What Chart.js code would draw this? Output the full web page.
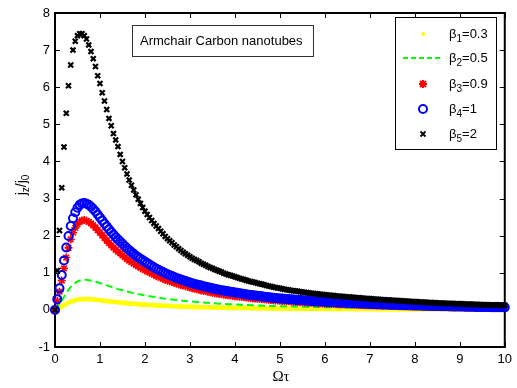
<!DOCTYPE html>
<html>
<head>
<meta charset="utf-8">
<script src="https://cdn.jsdelivr.net/npm/chart.js@4.4.0/dist/chart.umd.min.js"></script>
<style>
  html, body { margin: 0; padding: 0; background: #fff; }
</style>
</head>
<body>
<canvas id="chart" width="517" height="388"></canvas>
<script>
// x values (Omega tau), step 0.05
const omegaTau = [
  0, 0.05, 0.1, 0.15, 0.2, 0.25, 0.3, 0.35, 0.4, 0.45, 0.5, 0.55, 0.6, 0.65, 0.7, 0.75, 0.8, 0.85, 0.9, 0.95,
  1, 1.05, 1.1, 1.15, 1.2, 1.25, 1.3, 1.35, 1.4, 1.45, 1.5, 1.55, 1.6, 1.65, 1.7, 1.75, 1.8, 1.85, 1.9, 1.95,
  2, 2.05, 2.1, 2.15, 2.2, 2.25, 2.3, 2.35, 2.4, 2.45, 2.5, 2.55, 2.6, 2.65, 2.7, 2.75, 2.8, 2.85, 2.9, 2.95,
  3, 3.05, 3.1, 3.15, 3.2, 3.25, 3.3, 3.35, 3.4, 3.45, 3.5, 3.55, 3.6, 3.65, 3.7, 3.75, 3.8, 3.85, 3.9, 3.95,
  4, 4.05, 4.1, 4.15, 4.2, 4.25, 4.3, 4.35, 4.4, 4.45, 4.5, 4.55, 4.6, 4.65, 4.7, 4.75, 4.8, 4.85, 4.9, 4.95,
  5, 5.05, 5.1, 5.15, 5.2, 5.25, 5.3, 5.35, 5.4, 5.45, 5.5, 5.55, 5.6, 5.65, 5.7, 5.75, 5.8, 5.85, 5.9, 5.95,
  6, 6.05, 6.1, 6.15, 6.2, 6.25, 6.3, 6.35, 6.4, 6.45, 6.5, 6.55, 6.6, 6.65, 6.7, 6.75, 6.8, 6.85, 6.9, 6.95,
  7, 7.05, 7.1, 7.15, 7.2, 7.25, 7.3, 7.35, 7.4, 7.45, 7.5, 7.55, 7.6, 7.65, 7.7, 7.75, 7.8, 7.85, 7.9, 7.95,
  8, 8.05, 8.1, 8.15, 8.2, 8.25, 8.3, 8.35, 8.4, 8.45, 8.5, 8.55, 8.6, 8.65, 8.7, 8.75, 8.8, 8.85, 8.9, 8.95,
  9, 9.05, 9.1, 9.15, 9.2, 9.25, 9.3, 9.35, 9.4, 9.45, 9.5, 9.55, 9.6, 9.65, 9.7, 9.75, 9.8, 9.85, 9.9, 9.95,
  10
];

// beta1 = 0.3
const beta1 = [
  0, 0.03, 0.06, 0.09, 0.13, 0.16, 0.19, 0.22, 0.24, 0.26, 0.275, 0.285, 0.29, 0.292, 0.292, 0.29, 0.285, 0.28, 0.275, 0.268,
  0.26, 0.253, 0.245, 0.238, 0.23, 0.223, 0.216, 0.21, 0.203, 0.197, 0.19, 0.185, 0.179, 0.174, 0.168, 0.163, 0.158, 0.154, 0.15, 0.145,
  0.141, 0.137, 0.134, 0.13, 0.127, 0.123, 0.12, 0.116, 0.113, 0.11, 0.107, 0.104, 0.101, 0.098, 0.096, 0.093, 0.091, 0.089, 0.087, 0.085,
  0.083, 0.081, 0.079, 0.077, 0.076, 0.074, 0.072, 0.07, 0.069, 0.067, 0.066, 0.064, 0.063, 0.062, 0.061, 0.059, 0.058, 0.057, 0.056, 0.055,
  0.054, 0.053, 0.052, 0.051, 0.05, 0.049, 0.048, 0.047, 0.046, 0.045, 0.044, 0.0435, 0.043, 0.042, 0.041, 0.0405, 0.04, 0.039, 0.038, 0.0375,
  0.037, 0.0365, 0.036, 0.0355, 0.035, 0.0345, 0.034, 0.0335, 0.033, 0.0325, 0.032, 0.0315, 0.031, 0.0305, 0.03, 0.0295, 0.029, 0.0285, 0.028, 0.0275,
  0.027, 0.0265, 0.026, 0.026, 0.026, 0.0255, 0.025, 0.0245, 0.024, 0.024, 0.024, 0.0235, 0.023, 0.0225, 0.022, 0.022, 0.022, 0.0215, 0.021, 0.021,
  0.021, 0.0205, 0.02, 0.02, 0.02, 0.0195, 0.019, 0.019, 0.019, 0.0185, 0.018, 0.018, 0.018, 0.0175, 0.017, 0.017, 0.017, 0.017, 0.017, 0.0165,
  0.016, 0.016, 0.016, 0.0155, 0.015, 0.015, 0.015, 0.015, 0.015, 0.0145, 0.014, 0.014, 0.014, 0.014, 0.014, 0.0135, 0.013, 0.013, 0.013, 0.013,
  0.013, 0.0125, 0.012, 0.012, 0.012, 0.012, 0.012, 0.012, 0.012, 0.0115, 0.011, 0.011, 0.011, 0.011, 0.011, 0.011, 0.011, 0.0105, 0.01, 0.01,
  0.01
];

// beta2 = 0.5
const beta2 = [
  0, 0.08, 0.16, 0.25, 0.35, 0.45, 0.54, 0.62, 0.68, 0.73, 0.77, 0.79, 0.80, 0.81, 0.81, 0.80, 0.79, 0.775, 0.76, 0.74,
  0.72, 0.70, 0.68, 0.66, 0.64, 0.62, 0.60, 0.58, 0.56, 0.545, 0.53, 0.51, 0.495, 0.48, 0.465, 0.45, 0.44, 0.425, 0.415, 0.40,
  0.39, 0.38, 0.37, 0.36, 0.35, 0.34, 0.33, 0.32, 0.31, 0.302, 0.295, 0.287, 0.28, 0.272, 0.265, 0.257, 0.25, 0.245, 0.24, 0.235,
  0.23, 0.225, 0.22, 0.215, 0.21, 0.205, 0.20, 0.195, 0.19, 0.185, 0.18, 0.176, 0.172, 0.168, 0.165, 0.161, 0.158, 0.155, 0.152, 0.149,
  0.146, 0.143, 0.14, 0.137, 0.135, 0.132, 0.13, 0.127, 0.125, 0.122, 0.12, 0.118, 0.116, 0.114, 0.112, 0.11, 0.108, 0.106, 0.104, 0.102,
  0.10, 0.098, 0.097, 0.095, 0.094, 0.092, 0.091, 0.089, 0.088, 0.086, 0.085, 0.084, 0.083, 0.081, 0.08, 0.079, 0.078, 0.077, 0.076, 0.075,
  0.074, 0.073, 0.072, 0.071, 0.07, 0.069, 0.068, 0.067, 0.066, 0.065, 0.064, 0.0635, 0.063, 0.062, 0.061, 0.0605, 0.06, 0.059, 0.058, 0.0575,
  0.057, 0.056, 0.055, 0.0545, 0.054, 0.0535, 0.053, 0.052, 0.051, 0.0505, 0.05, 0.0495, 0.049, 0.0485, 0.048, 0.0475, 0.047, 0.0465, 0.046, 0.0455,
  0.045, 0.0445, 0.044, 0.0435, 0.043, 0.0425, 0.042, 0.0415, 0.041, 0.0405, 0.04, 0.0395, 0.039, 0.0385, 0.038, 0.0375, 0.037, 0.037, 0.037, 0.0365,
  0.036, 0.0355, 0.035, 0.0345, 0.034, 0.034, 0.034, 0.0335, 0.033, 0.0325, 0.032, 0.032, 0.032, 0.0315, 0.031, 0.0305, 0.03, 0.03, 0.03, 0.0295,
  0.029
];

// beta3 = 0.9
const beta3 = [
  0, 0.24, 0.49, 0.79, 1.12, 1.41, 1.67, 1.90, 2.08, 2.21, 2.31, 2.38, 2.41, 2.42, 2.40, 2.37, 2.33, 2.28, 2.22, 2.15,
  2.08, 2.01, 1.94, 1.87, 1.80, 1.74, 1.68, 1.62, 1.57, 1.52, 1.47, 1.42, 1.37, 1.33, 1.29, 1.25, 1.21, 1.17, 1.14, 1.10,
  1.07, 1.04, 1.01, 0.98, 0.95, 0.92, 0.89, 0.865, 0.84, 0.815, 0.79, 0.77, 0.75, 0.73, 0.71, 0.69, 0.67, 0.655, 0.64, 0.62,
  0.60, 0.585, 0.57, 0.555, 0.54, 0.525, 0.51, 0.50, 0.49, 0.475, 0.46, 0.45, 0.44, 0.43, 0.42, 0.41, 0.40, 0.392, 0.385, 0.377,
  0.37, 0.362, 0.355, 0.347, 0.34, 0.332, 0.325, 0.317, 0.31, 0.305, 0.30, 0.295, 0.29, 0.285, 0.28, 0.272, 0.265, 0.26, 0.255, 0.25,
  0.245, 0.242, 0.24, 0.235, 0.23, 0.225, 0.22, 0.215, 0.21, 0.207, 0.205, 0.201, 0.197, 0.193, 0.19, 0.186, 0.183, 0.18, 0.177, 0.173,
  0.17, 0.167, 0.165, 0.162, 0.16, 0.157, 0.155, 0.152, 0.15, 0.147, 0.145, 0.142, 0.14, 0.138, 0.136, 0.134, 0.132, 0.13, 0.128, 0.126,
  0.124, 0.122, 0.12, 0.118, 0.116, 0.114, 0.113, 0.111, 0.11, 0.108, 0.106, 0.104, 0.103, 0.101, 0.10, 0.098, 0.097, 0.095, 0.094, 0.092,
  0.091, 0.089, 0.088, 0.087, 0.086, 0.084, 0.083, 0.082, 0.081, 0.08, 0.079, 0.078, 0.077, 0.076, 0.075, 0.074, 0.073, 0.072, 0.071, 0.07,
  0.069, 0.068, 0.067, 0.066, 0.065, 0.064, 0.063, 0.0625, 0.062, 0.061, 0.06, 0.0595, 0.059, 0.058, 0.057, 0.0565, 0.056, 0.055, 0.054, 0.0535,
  0.053
];

// beta4 = 1
const beta4 = [
  0, 0.29, 0.58, 0.94, 1.33, 1.68, 1.99, 2.26, 2.47, 2.63, 2.75, 2.83, 2.87, 2.88, 2.86, 2.83, 2.78, 2.72, 2.65, 2.57,
  2.49, 2.41, 2.33, 2.25, 2.17, 2.10, 2.03, 1.96, 1.90, 1.84, 1.78, 1.72, 1.66, 1.61, 1.56, 1.51, 1.46, 1.42, 1.38, 1.34,
  1.30, 1.26, 1.22, 1.18, 1.15, 1.11, 1.08, 1.05, 1.02, 0.99, 0.96, 0.935, 0.91, 0.885, 0.86, 0.84, 0.82, 0.80, 0.78, 0.76,
  0.74, 0.72, 0.70, 0.685, 0.67, 0.655, 0.64, 0.625, 0.61, 0.595, 0.58, 0.567, 0.555, 0.542, 0.53, 0.52, 0.51, 0.50, 0.49, 0.48,
  0.47, 0.46, 0.45, 0.44, 0.43, 0.42, 0.41, 0.402, 0.395, 0.387, 0.38, 0.372, 0.365, 0.357, 0.35, 0.342, 0.335, 0.327, 0.32, 0.315,
  0.31, 0.305, 0.30, 0.295, 0.29, 0.285, 0.28, 0.275, 0.27, 0.265, 0.26, 0.255, 0.25, 0.245, 0.24, 0.236, 0.233, 0.229, 0.226, 0.223,
  0.22, 0.216, 0.213, 0.21, 0.207, 0.203, 0.20, 0.197, 0.194, 0.191, 0.188, 0.185, 0.182, 0.18, 0.177, 0.174, 0.172, 0.169, 0.167, 0.164,
  0.162, 0.159, 0.157, 0.154, 0.152, 0.15, 0.148, 0.145, 0.143, 0.141, 0.139, 0.137, 0.135, 0.133, 0.131, 0.129, 0.127, 0.125, 0.124, 0.122,
  0.12, 0.118, 0.117, 0.115, 0.113, 0.112, 0.11, 0.108, 0.107, 0.105, 0.104, 0.102, 0.101, 0.099, 0.098, 0.096, 0.095, 0.094, 0.093, 0.091,
  0.09, 0.089, 0.088, 0.086, 0.085, 0.084, 0.083, 0.081, 0.08, 0.079, 0.078, 0.077, 0.076, 0.075, 0.074, 0.073, 0.072, 0.071, 0.07, 0.069,
  0.068
];

// beta5 = 2
const beta5 = [
  0, 1.06, 2.14, 3.29, 4.39, 5.30, 6.04, 6.60, 7.00, 7.24, 7.39, 7.44, 7.44, 7.39, 7.30, 7.14, 6.96, 6.77, 6.56, 6.31,
  6.10, 5.85, 5.63, 5.40, 5.16, 4.96, 4.75, 4.58, 4.40, 4.19, 4.00, 3.83, 3.66, 3.50, 3.36, 3.23, 3.10, 2.98, 2.87, 2.76,
  2.66, 2.57, 2.49, 2.41, 2.33, 2.26, 2.19, 2.12, 2.05, 1.98, 1.92, 1.86, 1.81, 1.75, 1.70, 1.65, 1.60, 1.55, 1.51, 1.47,
  1.43, 1.39, 1.36, 1.33, 1.30, 1.26, 1.23, 1.20, 1.17, 1.14, 1.12, 1.09, 1.07, 1.04, 1.02, 0.99, 0.97, 0.95, 0.93, 0.91,
  0.89, 0.87, 0.85, 0.835, 0.82, 0.80, 0.78, 0.765, 0.75, 0.735, 0.72, 0.705, 0.69, 0.675, 0.66, 0.645, 0.63, 0.615, 0.60, 0.59,
  0.58, 0.567, 0.555, 0.545, 0.535, 0.525, 0.515, 0.507, 0.50, 0.49, 0.48, 0.472, 0.465, 0.457, 0.45, 0.442, 0.435, 0.427, 0.42, 0.415,
  0.41, 0.402, 0.395, 0.39, 0.385, 0.377, 0.37, 0.365, 0.36, 0.355, 0.35, 0.345, 0.34, 0.335, 0.33, 0.325, 0.32, 0.315, 0.31, 0.305,
  0.30, 0.295, 0.29, 0.285, 0.28, 0.277, 0.273, 0.269, 0.265, 0.262, 0.258, 0.254, 0.25, 0.246, 0.243, 0.239, 0.235, 0.232, 0.228, 0.224,
  0.22, 0.217, 0.214, 0.21, 0.207, 0.204, 0.20, 0.197, 0.194, 0.191, 0.188, 0.185, 0.182, 0.18, 0.177, 0.174, 0.172, 0.169, 0.167, 0.164,
  0.162, 0.16, 0.157, 0.155, 0.153, 0.151, 0.149, 0.147, 0.145, 0.143, 0.141, 0.139, 0.137, 0.135, 0.134, 0.132, 0.13, 0.129, 0.127, 0.126,
  0.124
];

const betaSubs = ["1", "2", "3", "4", "5"];
const betaValues = ["0.3", "0.5", "0.9", "1", "2"];
const xTicks = [0, 1, 2, 3, 4, 5, 6, 7, 8, 9, 10];
const yTicks = [-1, 0, 1, 2, 3, 4, 5, 6, 7, 8];

const sans = "'Liberation Sans', Arial, sans-serif";

function pts(ys) {
  return omegaTau.map((x, i) => ({ x: x, y: ys[i] }));
}

// MATLAB-like box, inward ticks, legend, note box and axis titles
const matlabLook = {
  id: "matlabLook",
  beforeDatasetsDraw(chart) {
    const ctx = chart.ctx;
    const a = chart.chartArea;
    const xs = chart.scales.x;
    const ys = chart.scales.y;
    ctx.save();
    ctx.strokeStyle = "#000";
    ctx.lineWidth = 1;
    xTicks.forEach((t) => {
      const px = Math.round(xs.getPixelForValue(t)) + 0.5;
      ctx.beginPath();
      ctx.moveTo(px, a.bottom); ctx.lineTo(px, a.bottom - 5);
      ctx.moveTo(px, a.top); ctx.lineTo(px, a.top + 5);
      ctx.stroke();
    });
    yTicks.forEach((t) => {
      const py = Math.round(ys.getPixelForValue(t)) + 0.5;
      ctx.beginPath();
      ctx.moveTo(a.left, py); ctx.lineTo(a.left + 5, py);
      ctx.moveTo(a.right, py); ctx.lineTo(a.right - 5, py);
      ctx.stroke();
    });
    ctx.lineWidth = 2;
    ctx.strokeRect(a.left, a.top, a.right - a.left, a.bottom - a.top);
    ctx.restore();
  },
  afterDraw(chart) {
    const ctx = chart.ctx;
    const ds = chart.data.datasets;
    ctx.save();

    // note box
    ctx.fillStyle = "#fff";
    ctx.fillRect(132, 25, 181, 31);
    ctx.strokeStyle = "#333";
    ctx.lineWidth = 1;
    ctx.strokeRect(132.5, 25.5, 181, 31);
    ctx.fillStyle = "#000";
    ctx.font = "13px " + sans;
    ctx.textBaseline = "middle";
    ctx.textAlign = "left";
    ctx.fillText("Armchair Carbon nanotubes", 140, 41);

    // legend box
    ctx.fillStyle = "#fff";
    ctx.fillRect(395, 17, 101, 132);
    ctx.strokeStyle = "#000";
    ctx.lineWidth = 1;
    ctx.strokeRect(395.5, 17.5, 101, 132);
    const rowY = [34, 58, 84, 109, 134];
    const mx = 423;
    rowY.forEach((y, i) => {
      const d = ds[i];
      ctx.save();
      ctx.strokeStyle = d.borderColor;
      ctx.fillStyle = d.backgroundColor;
      ctx.lineWidth = d.borderWidth;
      if (i === 0) {
        ctx.beginPath(); ctx.arc(mx, y, 2, 0, Math.PI * 2); ctx.fill();
      } else if (i === 1) {
        ctx.setLineDash([5, 3]);
        ctx.beginPath(); ctx.moveTo(403, y); ctx.lineTo(443, y); ctx.stroke();
      } else if (i === 2) {
        ctx.lineWidth = 2;
        ctx.beginPath();
        ctx.moveTo(mx - 4, y); ctx.lineTo(mx + 4, y);
        ctx.moveTo(mx, y - 4); ctx.lineTo(mx, y + 4);
        ctx.moveTo(mx - 3, y - 3); ctx.lineTo(mx + 3, y + 3);
        ctx.moveTo(mx - 3, y + 3); ctx.lineTo(mx + 3, y - 3);
        ctx.stroke();
      } else if (i === 3) {
        ctx.beginPath(); ctx.arc(mx, y, 4, 0, Math.PI * 2); ctx.stroke();
      } else {
        ctx.lineWidth = 1.8;
        ctx.beginPath();
        ctx.moveTo(mx - 2.5, y - 2.5); ctx.lineTo(mx + 2.5, y + 2.5);
        ctx.moveTo(mx - 2.5, y + 2.5); ctx.lineTo(mx + 2.5, y - 2.5);
        ctx.stroke();
      }
      ctx.restore();
      // label: beta_i = value
      let tx = 449;
      ctx.fillStyle = "#000";
      ctx.font = "13px " + sans;
      ctx.fillText("\u03b2", tx, y);
      tx += ctx.measureText("\u03b2").width;
      ctx.font = "10px " + sans;
      ctx.fillText(betaSubs[i], tx, y + 5);
      tx += ctx.measureText(betaSubs[i]).width;
      ctx.font = "13px " + sans;
      ctx.fillText("=" + betaValues[i], tx, y);
    });

    // x title
    ctx.font = "15px 'Liberation Serif', 'Times New Roman', serif";
    ctx.textAlign = "center";
    ctx.fillText("\u03a9\u03c4", 281, 377);

    // y title j_z/j_0, rotated
    ctx.translate(22, 185);
    ctx.rotate(-Math.PI / 2);
    const parts = [["j", 14, 0], ["z", 10, 4], ["/", 14, 0], ["j", 14, 0], ["0", 10, 4]];
    let w = 0;
    parts.forEach((p) => { ctx.font = p[1] + "px " + sans; w += ctx.measureText(p[0]).width; });
    let px = -w / 2;
    ctx.textAlign = "left";
    parts.forEach((p) => {
      ctx.font = p[1] + "px " + sans;
      ctx.fillText(p[0], px, p[2]);
      px += ctx.measureText(p[0]).width;
    });
    ctx.restore();
  }
};

new Chart(document.getElementById("chart"), {
  type: "line",
  data: {
    datasets: [
      {
        label: "beta1=0.3",
        data: pts(beta1),
        showLine: false,
        pointStyle: "circle",
        pointRadius: 2,
        pointBorderWidth: 1,
        borderWidth: 1,
        borderColor: "#ffff00",
        backgroundColor: "#ffff00",
        pointBackgroundColor: "#ffff00",
        pointBorderColor: "#ffff00",
        order: 5,
        clip: false
      },
      {
        label: "beta2=0.5",
        data: pts(beta2),
        showLine: true,
        pointRadius: 0,
        borderWidth: 2,
        borderDash: [7, 4],
        borderColor: "#00ff00",
        backgroundColor: "#00ff00",
        tension: 0,
        order: 4,
        clip: false
      },
      {
        label: "beta3=0.9",
        data: pts(beta3),
        showLine: false,
        pointStyle: "star",
        pointRadius: 4,
        pointBorderWidth: 1.6,
        borderWidth: 1.6,
        borderColor: "#ff0000",
        backgroundColor: "#ff0000",
        pointBorderColor: "#ff0000",
        order: 3,
        clip: false
      },
      {
        label: "beta4=1",
        data: pts(beta4),
        showLine: false,
        pointStyle: "circle",
        pointRadius: 4,
        pointBorderWidth: 2,
        borderWidth: 2,
        borderColor: "#0000ff",
        backgroundColor: "rgba(0,0,0,0)",
        pointBorderColor: "#0000ff",
        pointBackgroundColor: "rgba(0,0,0,0)",
        order: 2,
        clip: false
      },
      {
        label: "beta5=2",
        data: pts(beta5),
        showLine: false,
        pointStyle: "crossRot",
        pointRadius: 3.5,
        pointBorderWidth: 2.2,
        borderWidth: 2.2,
        borderColor: "#000000",
        backgroundColor: "#000000",
        pointBorderColor: "#000000",
        order: 1,
        clip: false
      }
    ]
  },
  options: {
    responsive: false,
    animation: false,
    devicePixelRatio: 1,
    events: [],
    layout: { padding: { top: 13, right: 9, left: 0, bottom: 0 } },
    plugins: {
      legend: { display: false },
      tooltip: { enabled: false }
    },
    scales: {
      x: {
        type: "linear",
        min: 0,
        max: 10,
        afterFit: (s) => { s.height = 41; },
        afterBuildTicks: (s) => { s.ticks = xTicks.map((v) => ({ value: v })); },
        grid: { display: false, drawTicks: false },
        border: { display: false },
        ticks: { color: "#000", font: { family: sans, size: 13 }, padding: 5, maxRotation: 0 }
      },
      y: {
        type: "linear",
        min: -1,
        max: 8,
        afterFit: (s) => { s.width = 55; },
        afterBuildTicks: (s) => { s.ticks = yTicks.map((v) => ({ value: v })); },
        grid: { display: false, drawTicks: false },
        border: { display: false },
        ticks: { color: "#000", font: { family: sans, size: 13 }, padding: 5 }
      }
    }
  },
  plugins: [matlabLook]
});
</script>
</body>
</html>
